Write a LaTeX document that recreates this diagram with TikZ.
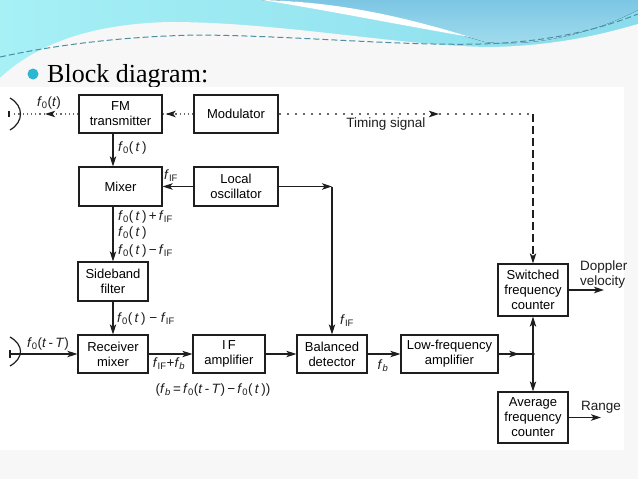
\documentclass[tikz,border=0pt]{standalone}
\usepackage{fontspec}
\setmainfont{Liberation Serif}
\newfontfamily\dgfont{Liberation Sans}
\usetikzlibrary{arrows.meta,calc,decorations.markings}
\definecolor{slidebg}{HTML}{F7F7F7}
\definecolor{cyanL}{HTML}{A6F0F6}
\definecolor{cyanR}{HTML}{8ADCEC}
\definecolor{blueT}{HTML}{7CC6E4}
\definecolor{blueB}{HTML}{A4DEEE}
\definecolor{dashteal}{HTML}{4A8FA3}
\definecolor{bullet}{HTML}{2BB6D2}
\definecolor{ink}{HTML}{1E1E1E}
\definecolor{dotgray}{HTML}{6A6A6A}
\newcommand{\ITf}{\textit{f}}
\newcommand{\sbs}[1]{\textsubscript{#1}}
\newcommand{\fz}{\ITf\sbs{0}}
\newcommand{\fif}{\ITf\sbs{IF}}
\newcommand{\fbb}{\ITf\sbs{\textit{b}}}
\newcommand{\tvar}{\textit{t}}
\begin{document}
\begin{tikzpicture}[x=1pt,y=-1pt,
  blk/.style={draw=ink, line width=1.3pt, inner sep=0pt, align=center,
    font=\dgfont\fontsize{13}{15}\selectfont},
  lbl/.style={inner sep=0pt, text=ink, font=\dgfont\fontsize{13.5}{15}\selectfont},
  conn/.style={draw=ink, line width=1.1pt},
  tip/.style={-{Stealth[length=10pt,width=6.5pt,inset=2.5pt]}},
  arr/.style={conn, tip},
  txdots/.style={draw=dotgray, line width=1.1pt, dash pattern=on 1.2pt off 3pt},
  timedots/.style={draw=dotgray, line width=1.1pt, dash pattern=on 2pt off 6pt},
  vdash/.style={conn, dash pattern=on 8pt off 4pt},
  midarrow/.style={postaction={decorate}, decoration={markings,
    mark=at position #1 with {\arrow[ink]{Stealth[length=10pt,width=6.5pt,inset=2.5pt]}}}}
]
\useasboundingbox (0,0) rectangle (638,479);
% ---------- slide background ----------
\fill[slidebg] (0,0) rectangle (638,479);
\fill[left color=cyanL, right color=cyanR] (0,0) rectangle (638,90);
\fill[top color=blueT, bottom color=blueB] (262,0) .. controls (350,2) and (430,26) .. (485,42)
   .. controls (540,48) and (600,30) .. (638,10) -- (638,0) -- cycle;
\fill[white] (262,0) .. controls (350,2) and (420,22) .. (470,37)
   .. controls (400,25) and (320,9) .. (262,0) -- cycle;
\fill[slidebg] (0,78) .. controls (30,50) and (80,24) .. (170,22)
   .. controls (280,22) and (400,46) .. (490,47)
   .. controls (560,46) and (610,32) .. (638,24) -- (638,479) -- (0,479) -- cycle;
\draw[dashteal, line width=1pt, dash pattern=on 6pt off 3pt]
   (0,57) .. controls (60,44) and (130,36) .. (200,35)
   .. controls (300,36) and (400,46) .. (480,44)
   .. controls (560,42) and (610,25) .. (638,14);
% ---------- title ----------
\fill[bullet] (33,74) circle (5.5);
\node[anchor=base west, inner sep=0pt, font=\fontsize{26}{30}\selectfont] (title) at (47,82) {Block diagram:};
% ---------- diagram area ----------
\fill[white] (0,87) rectangle (624,450);
% blocks
\node[blk, minimum width=83pt, minimum height=38pt] (fm)  at (120.5,114) {FM\\transmitter};
\node[blk, minimum width=84pt, minimum height=38pt] (mod) at (236,114) {Modulator};
\node[blk, minimum width=83pt, minimum height=39pt] (mix) at (120.5,186.5) {Mixer};
\node[blk, minimum width=84pt, minimum height=39pt] (lo)  at (236,186.5) {Local\\oscillator};
\node[blk, minimum width=70pt, minimum height=39pt] (sb)  at (113,281.5) {Sideband\\filter};
\node[blk, minimum width=70pt, minimum height=38pt] (rm)  at (113,354) {Receiver\\mixer};
\node[blk, minimum width=72pt, minimum height=38pt] (ifa) at (229,354) {I\,F\\amplifier};
\node[blk, minimum width=70pt, minimum height=38pt] (bd)  at (332,354) {Balanced\\detector};
\node[blk, minimum width=97pt, minimum height=38pt] (lfa) at (449.5,354) {Low-frequency\\amplifier};
\node[blk, minimum width=70pt, minimum height=52pt] (sfc) at (533,290) {Switched\\frequency\\counter};
\node[blk, minimum width=70pt, minimum height=51pt] (afc) at (533,417.5) {Average\\frequency\\counter};
% coordinates
\coordinate (txant) at (12,114);
\coordinate (rxant) at (10,354);
\coordinate (locorner) at (332,186.5);
\coordinate (timecorner) at (533,114);
\coordinate (junc) at (533,354);
\coordinate (dopend) at (604,290);
\coordinate (rangeend) at (601,417.5);
% antennas
\draw[ink, line width=1.2pt] (10,98) .. controls (24,106) and (24,122) .. (10,130);
\draw[ink, line width=1.2pt] (9,111) -- (9,117);
\draw[ink, line width=1.2pt] (10,337) .. controls (24,345) and (24,358) .. (10,366);
\draw[ink, line width=1.2pt] (10,350) -- (10,358);
% connectors
\draw[txdots, midarrow=0.5] (fm.west) -- (txant);
\draw[txdots, midarrow=0.9] (mod.west) -- (fm.east);
\draw[timedots, midarrow=0.63] (mod.east) -- (timecorner);
\draw[vdash, tip] (timecorner) -- (sfc.north);
\draw[arr] (sb.north |- fm.south) -- (sb.north |- mix.north);
\draw[arr] (lo.west) -- (mix.east);
\draw[arr] (sb.north |- mix.south) -- (sb.north);
\draw[arr] (sb.south) -- (rm.north);
\draw[arr] (lo.east) -- (locorner);
\draw[arr] (locorner) -- (bd.north);
\draw[arr] (rxant) -- (rm.west);
\draw[arr] (rm.east) -- (ifa.west);
\draw[arr] (ifa.east) -- (bd.west);
\draw[arr] (bd.east) -- (lfa.west);
\draw[conn, midarrow=0.6] (lfa.east) -- (junc);
\draw[arr] (junc) -- (sfc.south);
\draw[arr] (junc) -- (afc.north);
\fill[ink] (junc) circle (1.8);
\draw[arr] (sfc.east) -- (dopend);
\draw[arr] (afc.east) -- (rangeend);
% labels
\node[lbl] (l1) at (49,103) {\fz(\tvar)};
\node[lbl, anchor=west] (l2) at (118,148) {\fz(\,\tvar\,)};
\node[lbl] (l3) at (171,176) {\fif};
\node[lbl, anchor=west] (l4) at (118,217) {\fz(\,\tvar\,)\,+\,\fif};
\node[lbl, anchor=west] (l5) at (118,233) {\fz(\,\tvar\,)};
\node[lbl, anchor=west] (l6) at (118,251) {\fz(\,\tvar\,)\,−\,\fif};
\node[lbl, anchor=west] (l7) at (117,319) {\fz(\,\tvar\,)\;−\;\fif};
\node[lbl] (l8) at (48,344) {\fz(\tvar\,-\,\textit{T})};
\node[lbl] (l9) at (169,364) {\fif+\fbb};
\node[lbl] (l10) at (213,390) {(\fbb\,=\,\fz(\tvar\,-\,\textit{T})\,−\,\fz(\,\tvar\,))};
\node[lbl] (l11) at (347,321) {\fif};
\node[lbl] (l12) at (383,366) {\fbb};
\node[lbl, anchor=west, align=left] (l13) at (580,275) {Doppler\\velocity};
\node[lbl, anchor=west] (l14) at (581,407) {Range};
\node[lbl] (l15) at (386,124) {Timing signal};
\end{tikzpicture}
\end{document}
